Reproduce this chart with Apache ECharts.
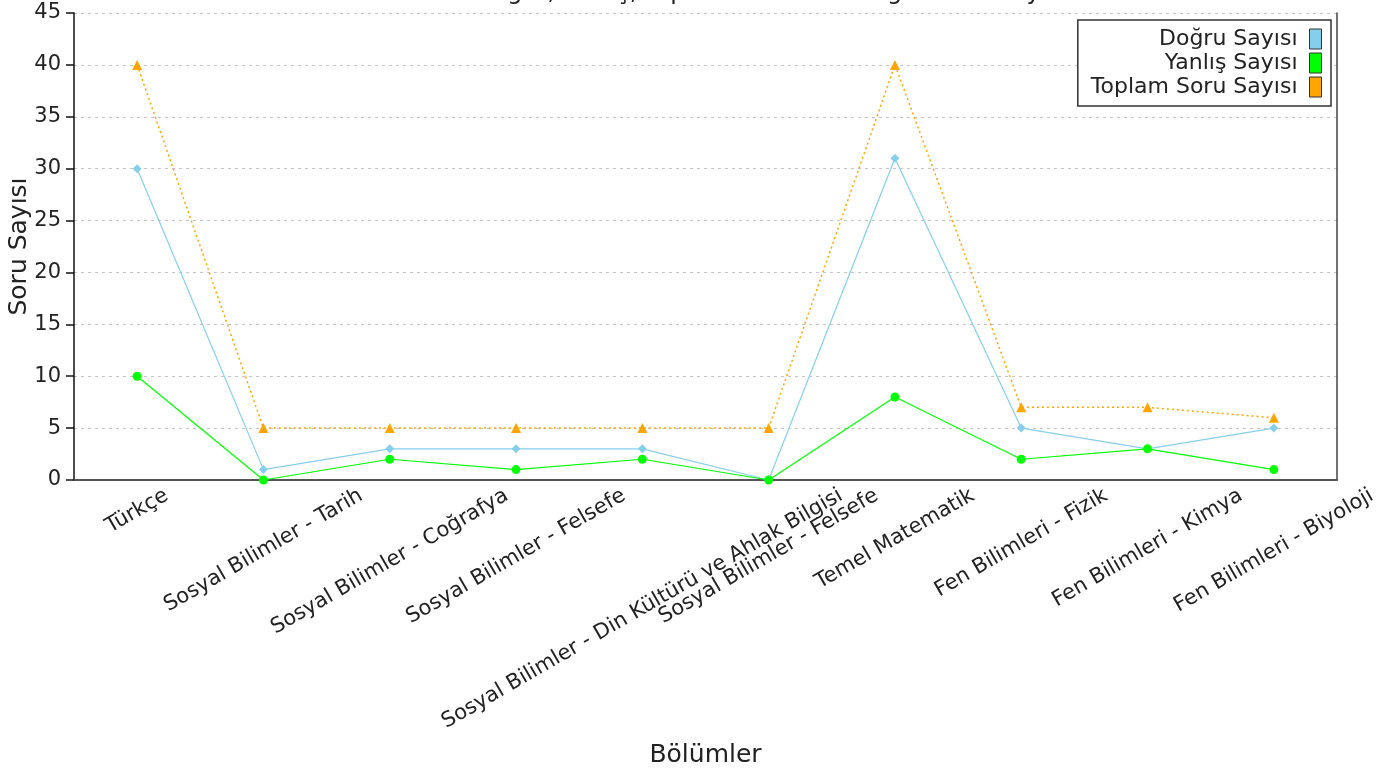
<!DOCTYPE html>
<html><head><meta charset="utf-8">
<script src="https://cdn.jsdelivr.net/npm/echarts@6/dist/echarts.min.js"></script>
<style>html,body{margin:0;padding:0;background:#fff}#c{width:1389px;height:774px}</style>
</head><body><div id="c"></div>
<script>
const categories = [
  'Türkçe',
  'Sosyal Bilimler - Tarih',
  'Sosyal Bilimler - Coğrafya',
  'Sosyal Bilimler - Felsefe',
  'Sosyal Bilimler - Din Kültürü ve Ahlak Bilgisi',
  'Sosyal Bilimler - Felsefe',
  'Temel Matematik',
  'Fen Bilimleri - Fizik',
  'Fen Bilimleri - Kimya',
  'Fen Bilimleri - Biyoloji'
];
const dogruSayisi  = [30, 1, 3, 3, 3, 0, 31, 5, 3, 5];
const yanlisSayisi = [10, 0, 2, 1, 2, 0, 8, 2, 3, 1];
const toplamSayisi = [40, 5, 5, 5, 5, 5, 40, 7, 7, 6];
const seriesNames = ['Doğru Sayısı', 'Yanlış Sayısı', 'Toplam Soru Sayısı'];
const yMin = 0, yMax = 45, yStep = 5;
const titleText = 'Doğru, Yanlış, Toplam Soruların Dağılımı ve Sayıları';

const FONT = '"DejaVu Sans", Verdana, sans-serif';
const LABEL_SIZE = 21;
const TEXT = '#222';

// x labels: centred on the tick, rotated, pushed down so the box top meets the axis
const ctx = document.createElement('canvas').getContext('2d');
ctx.font = LABEL_SIZE + 'px "DejaVu Sans"';
const rich = {};
categories.forEach((c, i) => {
  const w = ctx.measureText(c).width;
  const d = (w * 0.5 + LABEL_SIZE * 0.866) / 2;
  rich['l' + i] = {
    fontSize: LABEL_SIZE, fontFamily: FONT, color: TEXT,
    padding: [d * 1.732, d, 0, 0]
  };
});

const chart = echarts.init(document.getElementById('c'));
chart.setOption({
  animation: false,
  backgroundColor: '#fff',
  title: {
    text: titleText, left: 469, top: -24,
    textStyle: { fontSize: 24, fontWeight: 'normal', color: TEXT, fontFamily: FONT }
  },
  legend: {
    data: seriesNames,
    orient: 'vertical', align: 'right',
    right: 58, top: 20,
    padding: [8, 9, 8, 13],
    itemWidth: 12, itemHeight: 20, itemGap: 2,
    icon: 'rect',
    backgroundColor: '#fff', borderColor: '#333', borderWidth: 1.5,
    itemStyle: { borderColor: '#333', borderWidth: 1 },
    textStyle: { fontSize: 22, color: TEXT, fontFamily: FONT, padding: [0, 7, 0, 0] }
  },
  grid: { left: 74, right: 52, top: 13, bottom: 294, outerBoundsMode: 'none', containLabel: false },
  xAxis: {
    type: 'category', data: categories, boundaryGap: true,
    name: 'Bölümler', nameLocation: 'middle', nameGap: 263, nameMoveOverlap: false,
    nameTextStyle: { fontSize: 25, color: TEXT, fontFamily: FONT },
    axisLine: { lineStyle: { color: '#555', width: 2 } },
    axisTick: { show: false },
    axisLabel: {
      interval: 0, rotate: 30, align: 'center', verticalAlign: 'middle', margin: 5,
      formatter: (v, i) => '{l' + i + '|' + v + '}',
      rich: rich
    },
    splitLine: { show: false }
  },
  yAxis: [{
    type: 'value', min: yMin, max: yMax, interval: yStep,
    name: 'Soru Sayısı', nameLocation: 'middle', nameGap: 42, nameMoveOverlap: false,
    nameTextStyle: { fontSize: 25, color: TEXT, fontFamily: FONT },
    axisLine: { show: true, lineStyle: { color: '#111', width: 1.5 } },
    axisTick: { show: true, length: 8, lineStyle: { color: '#111', width: 1.5 } },
    axisLabel: { fontSize: 21, color: TEXT, fontFamily: FONT, margin: 13 },
    splitLine: { show: true, lineStyle: { color: '#c4c4c4', type: [3, 4], width: 1 } }
  }, {
    type: 'value', min: yMin, max: yMax, interval: yStep, position: 'right',
    axisLine: { show: true, lineStyle: { color: '#444', width: 1.5 } },
    axisTick: { show: false }, axisLabel: { show: false }, splitLine: { show: false }
  }],
  series: [
    {
      name: seriesNames[0], type: 'line', data: dogruSayisi,
      symbol: 'diamond', symbolSize: 9, showSymbol: true,
      itemStyle: { color: '#87CEEB' },
      lineStyle: { color: '#87CEEB', width: 1.2 }
    },
    {
      name: seriesNames[1], type: 'line', data: yanlisSayisi,
      symbol: 'circle', symbolSize: 9,
      itemStyle: { color: '#00FF00' },
      lineStyle: { color: '#00FF00', width: 1.2 }
    },
    {
      name: seriesNames[2], type: 'line', data: toplamSayisi,
      symbol: 'triangle', symbolSize: 10,
      itemStyle: { color: '#FFA500' },
      lineStyle: { color: '#FFA500', width: 1.5, type: [2, 3] }
    }
  ]
});
</script>
</body></html>
